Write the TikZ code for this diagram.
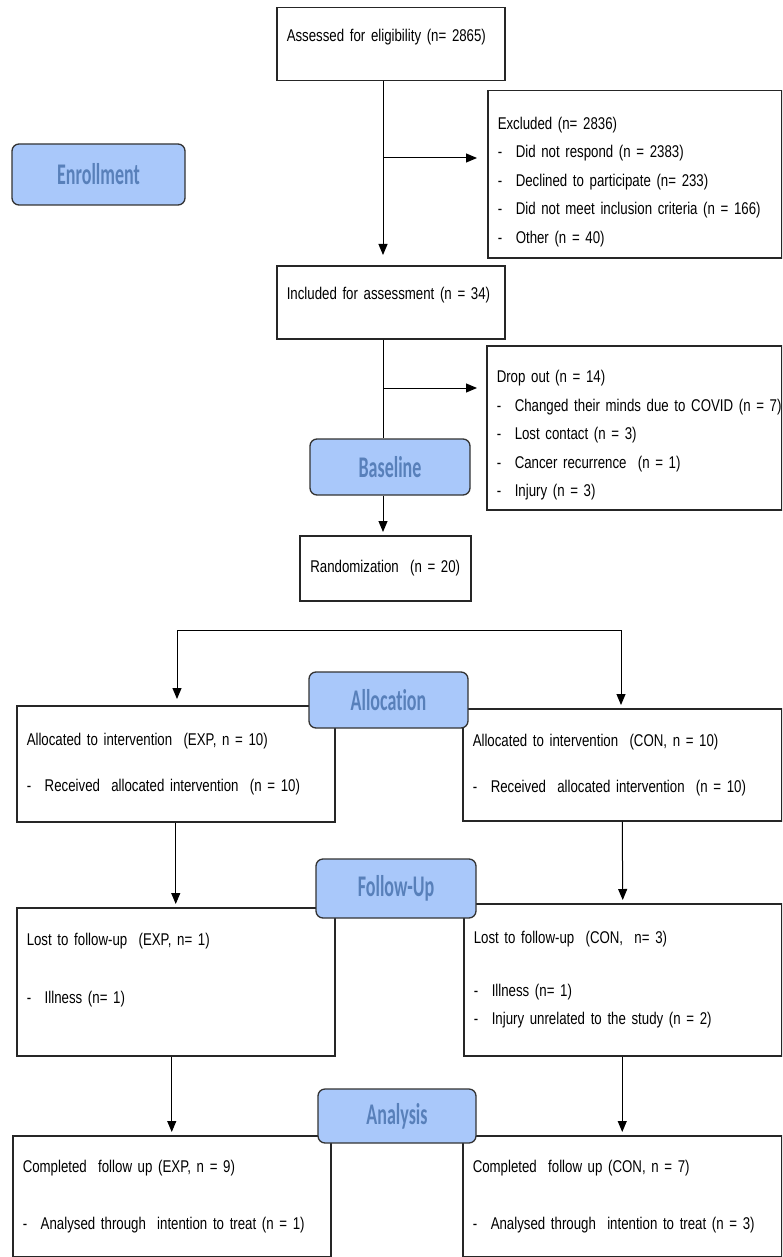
\documentclass[tikz,border=0pt]{standalone}
\usepackage{fontspec}
\setmainfont{Liberation Sans}[FakeStretch=0.78,WordSpace=0.65]
\newfontfamily\stagefont{Carlito}[FakeStretch=0.6,Ligatures=CommonOff]
\usepackage{tikz}
\usetikzlibrary{arrows.meta}
\usetikzlibrary{positioning}

\definecolor{stagefill}{RGB}{169,200,250}
\definecolor{stagetext}{RGB}{88,128,186}
\newcommand{\itemdash}{\makebox[18pt][l]{-}}
\newcommand{\padabove}[1]{\rule{0pt}{#1}}
\newcommand{\padbelow}[1]{\rule[-#1]{0pt}{#1}}

\begin{document}
\begin{tikzpicture}
    [x=1pt,y=-1pt,
    box/.style={rectangle,draw=black!85,line width=1.5pt,fill=white,
      anchor=north west,align=left,inner xsep=10pt,inner ysep=2pt,
      font=\fontsize{17}{28.5}\selectfont},
    stage/.style={rectangle,rounded corners=7pt,draw=black!80,fill=stagefill,
      line width=1.3pt,text=stagetext,inner sep=0pt,
      font=\stagefont\bfseries\fontsize{30}{32}\selectfont},
    arrow/.style={-{Triangle[length=11pt,width=9pt]},line width=1pt,
      shorten >=3pt}]

    \clip (0,0) rectangle (782,1257);

    \node[box,minimum width=228pt,minimum height=73pt,text width=208pt]
      (assessed) at (276,7) {Assessed for eligibility (n= 2865)\padbelow{17pt}};

    \node[box,minimum width=294pt,minimum height=167pt,text width=274pt]
      (excluded) at (487,90) {\padabove{28pt}Excluded (n= 2836)\\
      \itemdash Did not respond (n = 2383)\\
      \itemdash Declined to participate (n= 233)\\
      \itemdash Did not meet inclusion criteria (n = 166)\\
      \itemdash Other (n = 40)};

    \node[box,minimum width=228pt,minimum height=73pt,text width=208pt]
      (included) at (276,265) {Included for assessment (n = 34)\padbelow{17pt}};

    \node[box,minimum width=295pt,minimum height=164pt,text width=275pt]
      (drop out) at (486,345) {\padabove{28pt}Drop out (n = 14)\\
      \mbox{\itemdash Changed their minds due to COVID (n = 7)}\\
      \itemdash Lost contact (n = 3)\\
      \itemdash Cancer recurrence~ (n = 1)\\
      \itemdash Injury (n = 3)};

    \node[box,align=center,inner xsep=5pt,minimum width=171pt,minimum height=65pt,text width=161pt]
      (randomization) at (299,535) {Randomization~ (n = 20)};

    \node[box,minimum width=318pt,minimum height=116pt,text width=298pt]
      (allocated exp) at (16,705) {Allocated to intervention~ (EXP, n = 10)\\[17.5pt]
      \itemdash Received~ allocated intervention~ (n = 10)};

    \node[box,minimum width=319pt,minimum height=112pt,text width=299pt]
      (allocated con) at (462,708) {Allocated to intervention~ (CON, n = 10)\\[17.5pt]
      \itemdash Received~ allocated intervention~ (n = 10)};

    \node[box,minimum width=318pt,minimum height=148pt,text width=298pt]
      (lost exp) at (16,907) {Lost to follow-up~ (EXP, n= 1)\\[29.5pt]
      \itemdash Illness (n= 1)\padbelow{26pt}};

    \node[box,minimum width=318pt,minimum height=152pt,text width=298pt]
      (lost con) at (463,903) {Lost to follow-up~ (CON,~ n= 3)\\[24.5pt]
      \itemdash Illness (n= 1)\\
      \itemdash Injury unrelated to the study (n = 2)};

    \node[box,minimum width=318pt,minimum height=121pt,text width=298pt]
      (completed exp) at (12,1135) {Completed~ follow up (EXP, n = 9)\\[28.5pt]
      \itemdash Analysed through~ intention to treat (n = 1)};

    \node[box,minimum width=319pt,minimum height=121pt,text width=299pt]
      (completed con) at (462,1135) {Completed~ follow up (CON, n = 7)\\[28.5pt]
      \itemdash Analysed through~ intention to treat (n = 3)};

    % stage labels
    \node[stage,minimum width=173pt,minimum height=61pt] (enrollment) at (98.5,174.5) {Enrollment};

    \node[stage,minimum width=160pt,minimum height=56pt] (baseline) at (390,467) {Baseline};

    \node[stage,minimum width=159pt,minimum height=56pt] (allocation) at (388.5,700) {Allocation};

    \node[stage,minimum width=160pt,minimum height=59pt] (follow up) at (396,888.5) {Follow-Up};

    \node[stage,minimum width=158pt,minimum height=54pt] (analysis) at (397,1116) {Analysis};

    % connectors
    \coordinate (split 1) at (383,158);
    \coordinate (split 2) at (383,388);
    \coordinate (split 3) at (177,630);
    \coordinate (split 4) at (621,630);

    \draw[arrow,shorten >=10pt] (assessed.south -| split 1) -- (included.north -| split 1);
    \draw[arrow,shorten >=10pt] (split 1) -- (excluded.west |- split 1);

    \draw[line width=1pt] (included.south -| split 2) -- (baseline.north -| split 2);
    \draw[arrow,shorten >=9pt] (split 2) -- (drop out.west |- split 2);
    \draw[arrow] (baseline.south -| split 2) -- (randomization.north -| split 2);

    \draw[line width=1pt] (split 3) -- (split 4);
    \draw[arrow,shorten >=6pt] (split 3) -- (split 3 |- allocated exp.north);
    \draw[arrow] (split 4) -- (split 4 |- allocated con.north);

    \draw[arrow] (allocated exp.south) -- (lost exp.north);
    \draw[arrow] (allocated con.south) -- (lost con.north);

    \draw[arrow] (lost exp.south -| completed exp.north) -- (completed exp.north);
    \draw[arrow] (lost con.south -| completed con.north) -- (completed con.north);

  \end{tikzpicture}
\end{document}
